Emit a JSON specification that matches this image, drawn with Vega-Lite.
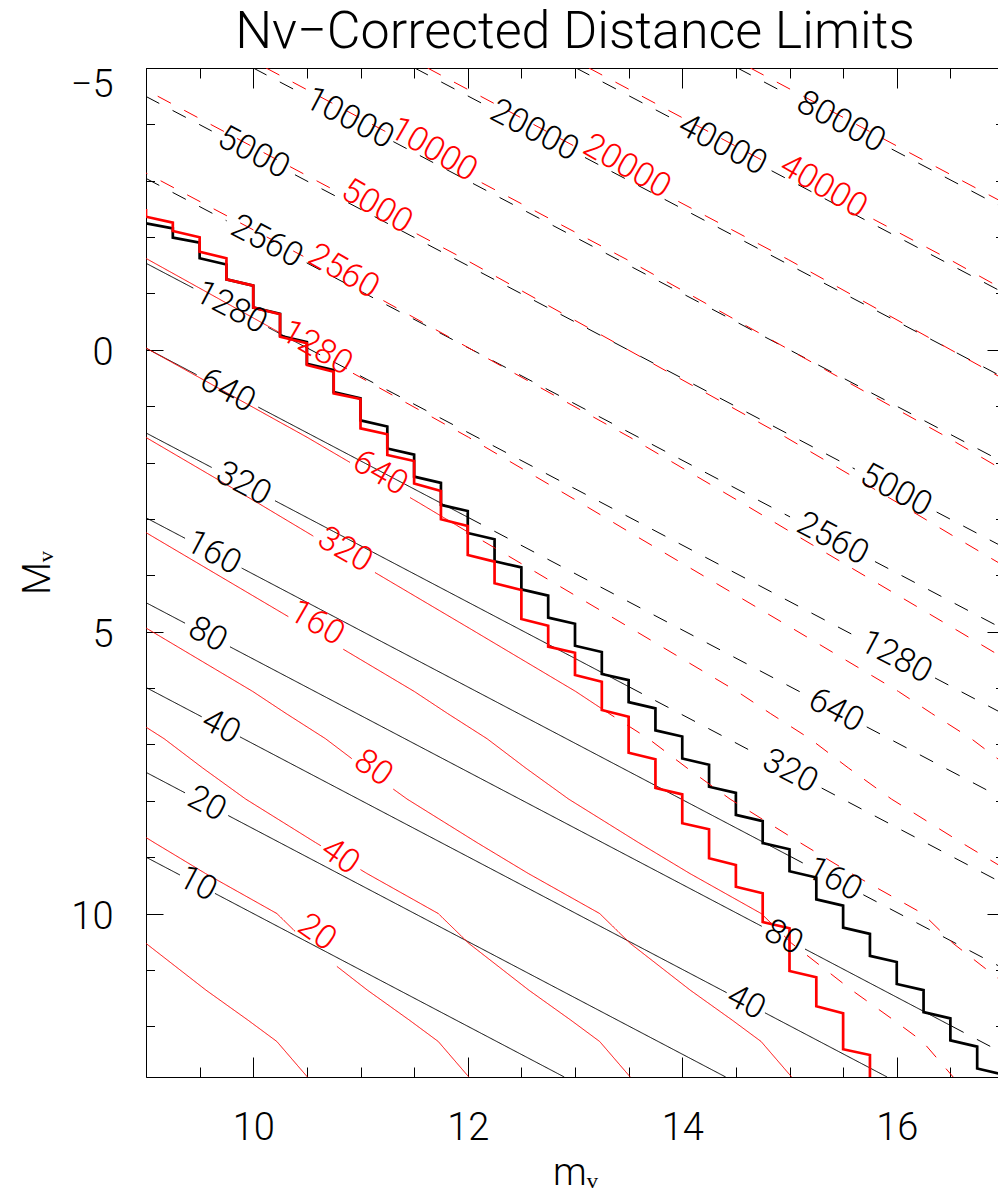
{
"$schema":"https://vega.github.io/schema/vega-lite/v6.json",
"width":858,"height":1009,
"autosize":{"type":"none"},
"padding":{"left":146,"top":68,"right":-6,"bottom":119},
"background":"white",
"title":{"text":"Nν−Corrected Distance Limits","fontSize":52,"font":"Roboto","fontWeight":300,"color":"black","anchor":"middle","frame":"group","offset":7},
"config":{"view":{"stroke":null},"font":"Roboto","axis":{"grid":false,"domainColor":"black","tickColor":"black","labelColor":"black","titleColor":"black","labelFont":"Roboto","titleFont":"Roboto","labelFontWeight":300,"titleFontWeight":300,"labelFlush":false,"labelOverlap":false,"domainWidth":1,"tickWidth":1}},
"datasets":{
"lines":[
{"set":"k","kind":"c","sty":"s","id":"b10a","o":0,"m":9,"M":9},{"set":"k","kind":"c","sty":"s","id":"b10a","o":1,"m":9.317,"M":9.317},
{"set":"k","kind":"c","sty":"s","id":"b10b","o":0,"m":9.643,"M":9.643},{"set":"k","kind":"c","sty":"s","id":"b10b","o":1,"m":12.9,"M":12.9},
{"set":"k","kind":"c","sty":"s","id":"b20a","o":0,"m":9,"M":7.495},{"set":"k","kind":"c","sty":"s","id":"b20a","o":1,"m":9.364,"M":7.859},
{"set":"k","kind":"c","sty":"s","id":"b20b","o":0,"m":9.767,"M":8.262},{"set":"k","kind":"c","sty":"s","id":"b20b","o":1,"m":14.405,"M":12.9},
{"set":"k","kind":"c","sty":"s","id":"b40a","o":0,"m":9,"M":5.99},{"set":"k","kind":"c","sty":"s","id":"b40a","o":1,"m":9.519,"M":6.509},
{"set":"k","kind":"c","sty":"s","id":"b40b","o":0,"m":9.876,"M":6.866},{"set":"k","kind":"c","sty":"s","id":"b40b","o":1,"m":14.414,"M":11.404},
{"set":"k","kind":"c","sty":"s","id":"b40c","o":0,"m":14.771,"M":11.761},{"set":"k","kind":"c","sty":"s","id":"b40c","o":1,"m":15.91,"M":12.9},
{"set":"k","kind":"c","sty":"s","id":"b80a","o":0,"m":9,"M":4.485},{"set":"k","kind":"c","sty":"s","id":"b80a","o":1,"m":9.364,"M":4.849},
{"set":"k","kind":"c","sty":"s","id":"b80b","o":0,"m":9.783,"M":5.268},{"set":"k","kind":"c","sty":"s","id":"b80b","o":1,"m":14.741,"M":10.226},
{"set":"k","kind":"c","sty":"s","id":"b80c","o":0,"m":15.145,"M":10.63},{"set":"k","kind":"c","sty":"s","id":"b80c","o":1,"m":16.5,"M":11.985},
{"set":"k","kind":"c","sty":"d","id":"b80d","o":0,"m":16.5,"M":11.985},{"set":"k","kind":"c","sty":"d","id":"b80d","o":1,"m":17,"M":12.485},
{"set":"k","kind":"c","sty":"s","id":"b160a","o":0,"m":9,"M":2.979},{"set":"k","kind":"c","sty":"s","id":"b160a","o":1,"m":9.364,"M":3.343},
{"set":"k","kind":"c","sty":"s","id":"b160b","o":0,"m":9.892,"M":3.871},{"set":"k","kind":"c","sty":"s","id":"b160b","o":1,"m":15.0,"M":8.979},
{"set":"k","kind":"c","sty":"d","id":"b160c","o":0,"m":15.0,"M":8.979},{"set":"k","kind":"c","sty":"d","id":"b160c","o":1,"m":15.145,"M":9.124},
{"set":"k","kind":"c","sty":"d","id":"b160d","o":0,"m":15.688,"M":9.667},{"set":"k","kind":"c","sty":"d","id":"b160d","o":1,"m":17,"M":10.979},
{"set":"k","kind":"c","sty":"s","id":"b320a","o":0,"m":9,"M":1.474},{"set":"k","kind":"c","sty":"s","id":"b320a","o":1,"m":9.613,"M":2.087},
{"set":"k","kind":"c","sty":"s","id":"b320b","o":0,"m":10.203,"M":2.677},{"set":"k","kind":"c","sty":"s","id":"b320b","o":1,"m":13.5,"M":5.974},
{"set":"k","kind":"c","sty":"d","id":"b320c","o":0,"m":13.5,"M":5.974},{"set":"k","kind":"c","sty":"d","id":"b320c","o":1,"m":14.709,"M":7.183},
{"set":"k","kind":"c","sty":"d","id":"b320d","o":0,"m":15.3,"M":7.774},{"set":"k","kind":"c","sty":"d","id":"b320d","o":1,"m":17,"M":9.474},
{"set":"k","kind":"c","sty":"s","id":"b640a","o":0,"m":9,"M":-0.031},{"set":"k","kind":"c","sty":"s","id":"b640a","o":1,"m":9.473,"M":0.442},
{"set":"k","kind":"c","sty":"s","id":"b640b","o":0,"m":10.047,"M":1.016},{"set":"k","kind":"c","sty":"s","id":"b640b","o":1,"m":12.0,"M":2.969},
{"set":"k","kind":"c","sty":"d","id":"b640c","o":0,"m":12.0,"M":2.969},{"set":"k","kind":"c","sty":"d","id":"b640c","o":1,"m":15.145,"M":6.114},
{"set":"k","kind":"c","sty":"d","id":"b640d","o":0,"m":15.72,"M":6.689},{"set":"k","kind":"c","sty":"d","id":"b640d","o":1,"m":17,"M":7.969},
{"set":"k","kind":"c","sty":"s","id":"b1280a","o":0,"m":9,"M":-1.536},{"set":"k","kind":"c","sty":"s","id":"b1280a","o":1,"m":9.441,"M":-1.095},
{"set":"k","kind":"c","sty":"s","id":"b1280b","o":0,"m":10.14,"M":-0.396},{"set":"k","kind":"c","sty":"s","id":"b1280b","o":1,"m":10.5,"M":-0.036},
{"set":"k","kind":"c","sty":"d","id":"b1280c","o":0,"m":10.5,"M":-0.036},{"set":"k","kind":"c","sty":"d","id":"b1280c","o":1,"m":15.627,"M":5.091},
{"set":"k","kind":"c","sty":"d","id":"b1280d","o":0,"m":16.357,"M":5.821},{"set":"k","kind":"c","sty":"d","id":"b1280d","o":1,"m":17,"M":6.464},
{"set":"k","kind":"c","sty":"d","id":"b2560a","o":0,"m":9,"M":-3.041},{"set":"k","kind":"c","sty":"d","id":"b2560a","o":1,"m":9.752,"M":-2.289},
{"set":"k","kind":"c","sty":"d","id":"b2560b","o":0,"m":10.498,"M":-1.543},{"set":"k","kind":"c","sty":"d","id":"b2560b","o":1,"m":15.005,"M":2.964},
{"set":"k","kind":"c","sty":"d","id":"b2560c","o":0,"m":15.797,"M":3.756},{"set":"k","kind":"c","sty":"d","id":"b2560c","o":1,"m":17,"M":4.959},
{"set":"k","kind":"c","sty":"d","id":"b5000a","o":0,"m":9,"M":-4.495},{"set":"k","kind":"c","sty":"d","id":"b5000a","o":1,"m":9.613,"M":-3.882},
{"set":"k","kind":"c","sty":"d","id":"b5000b","o":0,"m":10.389,"M":-3.106},{"set":"k","kind":"c","sty":"d","id":"b5000b","o":1,"m":15.61,"M":2.115},
{"set":"k","kind":"c","sty":"d","id":"b5000c","o":0,"m":16.372,"M":2.877},{"set":"k","kind":"c","sty":"d","id":"b5000c","o":1,"m":17,"M":3.505},
{"set":"k","kind":"c","sty":"d","id":"b10000a","o":0,"m":10,"M":-5},{"set":"k","kind":"c","sty":"d","id":"b10000a","o":1,"m":10.483,"M":-4.517},
{"set":"k","kind":"c","sty":"d","id":"b10000b","o":0,"m":11.306,"M":-3.694},{"set":"k","kind":"c","sty":"d","id":"b10000b","o":1,"m":17,"M":2.0},
{"set":"k","kind":"c","sty":"d","id":"b20000a","o":0,"m":11.505,"M":-5},{"set":"k","kind":"c","sty":"d","id":"b20000a","o":1,"m":12.145,"M":-4.36},
{"set":"k","kind":"c","sty":"d","id":"b20000b","o":0,"m":13.093,"M":-3.412},{"set":"k","kind":"c","sty":"d","id":"b20000b","o":1,"m":17,"M":0.495},
{"set":"k","kind":"c","sty":"d","id":"b40000a","o":0,"m":13.01,"M":-5},{"set":"k","kind":"c","sty":"d","id":"b40000a","o":1,"m":13.917,"M":-4.093},
{"set":"k","kind":"c","sty":"d","id":"b40000b","o":0,"m":14.833,"M":-3.177},{"set":"k","kind":"c","sty":"d","id":"b40000b","o":1,"m":17,"M":-1.01},
{"set":"k","kind":"c","sty":"d","id":"b80000a","o":0,"m":14.515,"M":-5},{"set":"k","kind":"c","sty":"d","id":"b80000a","o":1,"m":15.005,"M":-4.51},
{"set":"k","kind":"c","sty":"d","id":"b80000b","o":0,"m":15.953,"M":-3.562},{"set":"k","kind":"c","sty":"d","id":"b80000b","o":1,"m":17,"M":-2.515},

{"set":"r","kind":"c","sty":"s","id":"r10a","o":0,"m":8.715,"M":10.0},{"set":"r","kind":"c","sty":"s","id":"r10a","o":1,"m":9.0,"M":10.53},{"set":"r","kind":"c","sty":"s","id":"r10a","o":2,"m":9.56,"M":11.36},{"set":"r","kind":"c","sty":"s","id":"r10a","o":3,"m":9.95,"M":11.89},{"set":"r","kind":"c","sty":"s","id":"r10a","o":4,"m":10.22,"M":12.27},{"set":"r","kind":"c","sty":"s","id":"r10a","o":5,"m":10.505,"M":12.9},

{"set":"r","kind":"c","sty":"s","id":"r20a","o":0,"m":8.425,"M":7.97},{"set":"r","kind":"c","sty":"s","id":"r20a","o":1,"m":9.075,"M":8.74},{"set":"r","kind":"c","sty":"s","id":"r20a","o":2,"m":9.555,"M":9.29},{"set":"r","kind":"c","sty":"s","id":"r20a","o":3,"m":10.22,"M":10.0},{"set":"r","kind":"c","sty":"s","id":"r20a","o":4,"m":10.39,"M":10.316},
{"set":"r","kind":"c","sty":"s","id":"r20b","o":0,"m":10.78,"M":10.938},{"set":"r","kind":"c","sty":"s","id":"r20b","o":1,"m":11.065,"M":11.36},{"set":"r","kind":"c","sty":"s","id":"r20b","o":2,"m":11.455,"M":11.89},{"set":"r","kind":"c","sty":"s","id":"r20b","o":3,"m":11.725,"M":12.27},{"set":"r","kind":"c","sty":"s","id":"r20b","o":4,"m":12.01,"M":12.9},

{"set":"r","kind":"c","sty":"s","id":"r40a","o":0,"m":8.8,"M":6.45},{"set":"r","kind":"c","sty":"s","id":"r40a","o":1,"m":9.17,"M":6.9},{"set":"r","kind":"c","sty":"s","id":"r40a","o":2,"m":9.53,"M":7.42},{"set":"r","kind":"c","sty":"s","id":"r40a","o":3,"m":9.93,"M":7.97},{"set":"r","kind":"c","sty":"s","id":"r40a","o":4,"m":10.58,"M":8.74},{"set":"r","kind":"c","sty":"s","id":"r40a","o":5,"m":10.63,"M":8.797},
{"set":"r","kind":"c","sty":"s","id":"r40b","o":0,"m":11.0,"M":9.221},{"set":"r","kind":"c","sty":"s","id":"r40b","o":1,"m":11.06,"M":9.29},{"set":"r","kind":"c","sty":"s","id":"r40b","o":2,"m":11.725,"M":10.0},{"set":"r","kind":"c","sty":"s","id":"r40b","o":3,"m":12.01,"M":10.53},{"set":"r","kind":"c","sty":"s","id":"r40b","o":4,"m":12.57,"M":11.36},{"set":"r","kind":"c","sty":"s","id":"r40b","o":5,"m":12.96,"M":11.89},{"set":"r","kind":"c","sty":"s","id":"r40b","o":6,"m":13.23,"M":12.27},{"set":"r","kind":"c","sty":"s","id":"r40b","o":7,"m":13.515,"M":12.9},

{"set":"r","kind":"c","sty":"s","id":"r80a","o":0,"m":7.545,"M":3.3},{"set":"r","kind":"c","sty":"s","id":"r80a","o":1,"m":9.005,"M":4.94},{"set":"r","kind":"c","sty":"s","id":"r80a","o":2,"m":9.995,"M":6.06},{"set":"r","kind":"c","sty":"s","id":"r80a","o":3,"m":10.305,"M":6.45},{"set":"r","kind":"c","sty":"s","id":"r80a","o":4,"m":10.675,"M":6.9},{"set":"r","kind":"c","sty":"s","id":"r80a","o":5,"m":10.918,"M":7.251},
{"set":"r","kind":"c","sty":"s","id":"r80b","o":0,"m":11.306,"M":7.793},{"set":"r","kind":"c","sty":"s","id":"r80b","o":1,"m":11.435,"M":7.97},{"set":"r","kind":"c","sty":"s","id":"r80b","o":2,"m":12.085,"M":8.74},{"set":"r","kind":"c","sty":"s","id":"r80b","o":3,"m":12.565,"M":9.29},{"set":"r","kind":"c","sty":"s","id":"r80b","o":4,"m":13.23,"M":10.0},{"set":"r","kind":"c","sty":"s","id":"r80b","o":5,"m":13.515,"M":10.53},{"set":"r","kind":"c","sty":"s","id":"r80b","o":6,"m":14.075,"M":11.36},{"set":"r","kind":"c","sty":"s","id":"r80b","o":7,"m":14.465,"M":11.89},{"set":"r","kind":"c","sty":"s","id":"r80b","o":8,"m":14.735,"M":12.27},{"set":"r","kind":"c","sty":"s","id":"r80b","o":9,"m":15.02,"M":12.9},

{"set":"r","kind":"c","sty":"s","id":"r160a","o":0,"m":8.541,"M":2.72},{"set":"r","kind":"c","sty":"s","id":"r160a","o":1,"m":9.051,"M":3.3},{"set":"r","kind":"c","sty":"s","id":"r160a","o":2,"m":10.327,"M":4.733},
{"set":"r","kind":"c","sty":"s","id":"r160b","o":0,"m":10.84,"M":5.312},{"set":"r","kind":"c","sty":"s","id":"r160b","o":1,"m":11.501,"M":6.06},{"set":"r","kind":"c","sty":"s","id":"r160b","o":2,"m":11.811,"M":6.45},{"set":"r","kind":"c","sty":"s","id":"r160b","o":3,"m":12.181,"M":6.9},{"set":"r","kind":"c","sty":"s","id":"r160b","o":4,"m":12.541,"M":7.42},{"set":"r","kind":"c","sty":"s","id":"r160b","o":5,"m":12.941,"M":7.97},{"set":"r","kind":"c","sty":"s","id":"r160b","o":6,"m":13.591,"M":8.74},{"set":"r","kind":"c","sty":"s","id":"r160b","o":7,"m":14.071,"M":9.29},{"set":"r","kind":"c","sty":"s","id":"r160b","o":8,"m":14.736,"M":10.0},{"set":"r","kind":"c","sty":"s","id":"r160b","o":9,"m":14.75,"M":10.026},
{"set":"r","kind":"c","sty":"d","id":"r160c","o":0,"m":14.75,"M":10.026},{"set":"r","kind":"c","sty":"d","id":"r160c","o":1,"m":15.021,"M":10.53},{"set":"r","kind":"c","sty":"d","id":"r160c","o":2,"m":15.581,"M":11.36},{"set":"r","kind":"c","sty":"d","id":"r160c","o":3,"m":15.971,"M":11.89},{"set":"r","kind":"c","sty":"d","id":"r160c","o":4,"m":16.241,"M":12.27},{"set":"r","kind":"c","sty":"d","id":"r160c","o":5,"m":16.526,"M":12.9},

{"set":"r","kind":"c","sty":"s","id":"r320a","o":0,"m":7.526,"M":0.0},{"set":"r","kind":"c","sty":"s","id":"r320a","o":1,"m":8.996,"M":1.55},{"set":"r","kind":"c","sty":"s","id":"r320a","o":2,"m":10.046,"M":2.72},{"set":"r","kind":"c","sty":"s","id":"r320a","o":3,"m":10.556,"M":3.3},{"set":"r","kind":"c","sty":"s","id":"r320a","o":4,"m":10.56,"M":3.305},
{"set":"r","kind":"c","sty":"s","id":"r320b","o":0,"m":11.135,"M":3.95},{"set":"r","kind":"c","sty":"s","id":"r320b","o":1,"m":12.016,"M":4.94},{"set":"r","kind":"c","sty":"s","id":"r320b","o":2,"m":13.006,"M":6.06},{"set":"r","kind":"c","sty":"s","id":"r320b","o":3,"m":13.25,"M":6.367},
{"set":"r","kind":"c","sty":"d","id":"r320c","o":0,"m":13.25,"M":6.367},{"set":"r","kind":"c","sty":"d","id":"r320c","o":1,"m":13.316,"M":6.45},{"set":"r","kind":"c","sty":"d","id":"r320c","o":2,"m":13.686,"M":6.9},{"set":"r","kind":"c","sty":"d","id":"r320c","o":3,"m":14.046,"M":7.42},{"set":"r","kind":"c","sty":"d","id":"r320c","o":4,"m":14.446,"M":7.97},{"set":"r","kind":"c","sty":"d","id":"r320c","o":5,"m":15.096,"M":8.74},{"set":"r","kind":"c","sty":"d","id":"r320c","o":6,"m":15.576,"M":9.29},{"set":"r","kind":"c","sty":"d","id":"r320c","o":7,"m":16.241,"M":10.0},{"set":"r","kind":"c","sty":"d","id":"r320c","o":8,"m":16.526,"M":10.53},{"set":"r","kind":"c","sty":"d","id":"r320c","o":9,"m":17.086,"M":11.36},

{"set":"r","kind":"c","sty":"s","id":"r640a","o":0,"m":7.516,"M":-1.6},{"set":"r","kind":"c","sty":"s","id":"r640a","o":1,"m":9.031,"M":0.0},{"set":"r","kind":"c","sty":"s","id":"r640a","o":2,"m":10.501,"M":1.55},{"set":"r","kind":"c","sty":"s","id":"r640a","o":3,"m":10.902,"M":1.997},
{"set":"r","kind":"c","sty":"s","id":"r640b","o":0,"m":11.462,"M":2.621},{"set":"r","kind":"c","sty":"s","id":"r640b","o":1,"m":11.551,"M":2.72},{"set":"r","kind":"c","sty":"s","id":"r640b","o":2,"m":11.9,"M":3.117},
{"set":"r","kind":"c","sty":"d","id":"r640c","o":0,"m":11.9,"M":3.117},{"set":"r","kind":"c","sty":"d","id":"r640c","o":1,"m":12.061,"M":3.3},{"set":"r","kind":"c","sty":"d","id":"r640c","o":2,"m":13.521,"M":4.94},{"set":"r","kind":"c","sty":"d","id":"r640c","o":3,"m":14.511,"M":6.06},{"set":"r","kind":"c","sty":"d","id":"r640c","o":4,"m":14.821,"M":6.45},{"set":"r","kind":"c","sty":"d","id":"r640c","o":5,"m":15.191,"M":6.9},{"set":"r","kind":"c","sty":"d","id":"r640c","o":6,"m":15.551,"M":7.42},{"set":"r","kind":"c","sty":"d","id":"r640c","o":7,"m":15.951,"M":7.97},{"set":"r","kind":"c","sty":"d","id":"r640c","o":8,"m":16.601,"M":8.74},{"set":"r","kind":"c","sty":"d","id":"r640c","o":9,"m":17.081,"M":9.29},

{"set":"r","kind":"c","sty":"s","id":"r1280a","o":0,"m":7.631,"M":-3.0},{"set":"r","kind":"c","sty":"s","id":"r1280a","o":1,"m":9.021,"M":-1.6},{"set":"r","kind":"c","sty":"s","id":"r1280a","o":2,"m":10.25,"M":-0.302},
{"set":"r","kind":"c","sty":"d","id":"r1280b","o":0,"m":10.93,"M":0.415},{"set":"r","kind":"c","sty":"d","id":"r1280b","o":1,"m":12.006,"M":1.55},{"set":"r","kind":"c","sty":"d","id":"r1280b","o":2,"m":13.056,"M":2.72},{"set":"r","kind":"c","sty":"d","id":"r1280b","o":3,"m":13.566,"M":3.3},{"set":"r","kind":"c","sty":"d","id":"r1280b","o":4,"m":15.026,"M":4.94},{"set":"r","kind":"c","sty":"d","id":"r1280b","o":5,"m":16.016,"M":6.06},{"set":"r","kind":"c","sty":"d","id":"r1280b","o":6,"m":16.326,"M":6.45},{"set":"r","kind":"c","sty":"d","id":"r1280b","o":7,"m":16.696,"M":6.9},{"set":"r","kind":"c","sty":"d","id":"r1280b","o":8,"m":17.056,"M":7.42},

{"set":"r","kind":"c","sty":"d","id":"r2560a","o":0,"m":7.161,"M":-5.0},{"set":"r","kind":"c","sty":"d","id":"r2560a","o":1,"m":9.136,"M":-3.0},{"set":"r","kind":"c","sty":"d","id":"r2560a","o":2,"m":10.467,"M":-1.659},
{"set":"r","kind":"c","sty":"d","id":"r2560b","o":0,"m":11.213,"M":-0.874},{"set":"r","kind":"c","sty":"d","id":"r2560b","o":1,"m":12.041,"M":0.0},{"set":"r","kind":"c","sty":"d","id":"r2560b","o":2,"m":13.511,"M":1.55},{"set":"r","kind":"c","sty":"d","id":"r2560b","o":3,"m":14.561,"M":2.72},{"set":"r","kind":"c","sty":"d","id":"r2560b","o":4,"m":15.071,"M":3.3},{"set":"r","kind":"c","sty":"d","id":"r2560b","o":5,"m":16.531,"M":4.94},{"set":"r","kind":"c","sty":"d","id":"r2560b","o":6,"m":17.521,"M":6.06},

{"set":"r","kind":"c","sty":"d","id":"r5000a","o":0,"m":8.615,"M":-5.0},{"set":"r","kind":"c","sty":"d","id":"r5000a","o":1,"m":10.59,"M":-3.0},{"set":"r","kind":"c","sty":"d","id":"r5000a","o":2,"m":10.778,"M":-2.81},
{"set":"r","kind":"c","sty":"d","id":"r5000b","o":0,"m":11.524,"M":-2.059},{"set":"r","kind":"c","sty":"d","id":"r5000b","o":1,"m":11.98,"M":-1.6},{"set":"r","kind":"c","sty":"d","id":"r5000b","o":2,"m":13.495,"M":0.0},{"set":"r","kind":"c","sty":"d","id":"r5000b","o":3,"m":14.965,"M":1.55},{"set":"r","kind":"c","sty":"d","id":"r5000b","o":4,"m":16.015,"M":2.72},{"set":"r","kind":"c","sty":"d","id":"r5000b","o":5,"m":16.525,"M":3.3},{"set":"r","kind":"c","sty":"d","id":"r5000b","o":6,"m":17.985,"M":4.94},

{"set":"r","kind":"c","sty":"d","id":"r10000a","o":0,"m":10.12,"M":-5.0},{"set":"r","kind":"c","sty":"d","id":"r10000a","o":1,"m":11.244,"M":-3.862},
{"set":"r","kind":"c","sty":"d","id":"r10000b","o":0,"m":12.13,"M":-2.965},{"set":"r","kind":"c","sty":"d","id":"r10000b","o":1,"m":13.485,"M":-1.6},{"set":"r","kind":"c","sty":"d","id":"r10000b","o":2,"m":15.0,"M":0.0},{"set":"r","kind":"c","sty":"d","id":"r10000b","o":3,"m":16.47,"M":1.55},{"set":"r","kind":"c","sty":"d","id":"r10000b","o":4,"m":17.52,"M":2.72},

{"set":"r","kind":"c","sty":"d","id":"r20000a","o":0,"m":11.625,"M":-5.0},{"set":"r","kind":"c","sty":"d","id":"r20000a","o":1,"m":13.047,"M":-3.56},
{"set":"r","kind":"c","sty":"d","id":"r20000b","o":0,"m":13.963,"M":-2.634},{"set":"r","kind":"c","sty":"d","id":"r20000b","o":1,"m":14.99,"M":-1.6},{"set":"r","kind":"c","sty":"d","id":"r20000b","o":2,"m":16.505,"M":0.0},{"set":"r","kind":"c","sty":"d","id":"r20000b","o":3,"m":17.975,"M":1.55},

{"set":"r","kind":"c","sty":"d","id":"r40000a","o":0,"m":13.13,"M":-5.0},{"set":"r","kind":"c","sty":"d","id":"r40000a","o":1,"m":14.849,"M":-3.259},
{"set":"r","kind":"c","sty":"d","id":"r40000b","o":0,"m":15.782,"M":-2.318},{"set":"r","kind":"c","sty":"d","id":"r40000b","o":1,"m":16.495,"M":-1.6},{"set":"r","kind":"c","sty":"d","id":"r40000b","o":2,"m":18.01,"M":0.0},

{"set":"r","kind":"c","sty":"d","id":"r80000a","o":0,"m":14.635,"M":-5.0},{"set":"r","kind":"c","sty":"d","id":"r80000a","o":1,"m":16.61,"M":-3.0},{"set":"r","kind":"c","sty":"d","id":"r80000a","o":2,"m":18.0,"M":-1.6},

{"set":"k","kind":"l","sty":"s","id":"bl","o":0,"m":9,"M":-2.245},
{"set":"k","kind":"l","sty":"s","id":"bl","o":1,"m":9.25,"M":-2.156},{"set":"k","kind":"l","sty":"s","id":"bl","o":2,"m":9.25,"M":-1.99},
{"set":"k","kind":"l","sty":"s","id":"bl","o":3,"m":9.5,"M":-1.901},{"set":"k","kind":"l","sty":"s","id":"bl","o":4,"m":9.5,"M":-1.624},
{"set":"k","kind":"l","sty":"s","id":"bl","o":5,"m":9.75,"M":-1.514},{"set":"k","kind":"l","sty":"s","id":"bl","o":6,"m":9.75,"M":-1.25},
{"set":"k","kind":"l","sty":"s","id":"bl","o":7,"m":10,"M":-1.14},{"set":"k","kind":"l","sty":"s","id":"bl","o":8,"m":10,"M":-0.75},
{"set":"k","kind":"l","sty":"s","id":"bl","o":9,"m":10.25,"M":-0.64},{"set":"k","kind":"l","sty":"s","id":"bl","o":10,"m":10.25,"M":-0.25},
{"set":"k","kind":"l","sty":"s","id":"bl","o":11,"m":10.5,"M":-0.14},{"set":"k","kind":"l","sty":"s","id":"bl","o":12,"m":10.5,"M":0.25},
{"set":"k","kind":"l","sty":"s","id":"bl","o":13,"m":10.75,"M":0.36},{"set":"k","kind":"l","sty":"s","id":"bl","o":14,"m":10.75,"M":0.75},
{"set":"k","kind":"l","sty":"s","id":"bl","o":15,"m":11,"M":0.86},{"set":"k","kind":"l","sty":"s","id":"bl","o":16,"m":11,"M":1.25},
{"set":"k","kind":"l","sty":"s","id":"bl","o":17,"m":11.25,"M":1.36},{"set":"k","kind":"l","sty":"s","id":"bl","o":18,"m":11.25,"M":1.75},
{"set":"k","kind":"l","sty":"s","id":"bl","o":19,"m":11.5,"M":1.86},{"set":"k","kind":"l","sty":"s","id":"bl","o":20,"m":11.5,"M":2.25},
{"set":"k","kind":"l","sty":"s","id":"bl","o":21,"m":11.75,"M":2.36},{"set":"k","kind":"l","sty":"s","id":"bl","o":22,"m":11.75,"M":2.75},
{"set":"k","kind":"l","sty":"s","id":"bl","o":23,"m":12,"M":2.86},{"set":"k","kind":"l","sty":"s","id":"bl","o":24,"m":12,"M":3.25},
{"set":"k","kind":"l","sty":"s","id":"bl","o":25,"m":12.25,"M":3.36},{"set":"k","kind":"l","sty":"s","id":"bl","o":26,"m":12.25,"M":3.75},
{"set":"k","kind":"l","sty":"s","id":"bl","o":27,"m":12.5,"M":3.86},{"set":"k","kind":"l","sty":"s","id":"bl","o":28,"m":12.5,"M":4.25},
{"set":"k","kind":"l","sty":"s","id":"bl","o":29,"m":12.75,"M":4.36},{"set":"k","kind":"l","sty":"s","id":"bl","o":30,"m":12.75,"M":4.75},
{"set":"k","kind":"l","sty":"s","id":"bl","o":31,"m":13,"M":4.86},{"set":"k","kind":"l","sty":"s","id":"bl","o":32,"m":13,"M":5.25},
{"set":"k","kind":"l","sty":"s","id":"bl","o":33,"m":13.25,"M":5.36},{"set":"k","kind":"l","sty":"s","id":"bl","o":34,"m":13.25,"M":5.75},
{"set":"k","kind":"l","sty":"s","id":"bl","o":35,"m":13.5,"M":5.86},{"set":"k","kind":"l","sty":"s","id":"bl","o":36,"m":13.5,"M":6.25},
{"set":"k","kind":"l","sty":"s","id":"bl","o":37,"m":13.75,"M":6.36},{"set":"k","kind":"l","sty":"s","id":"bl","o":38,"m":13.75,"M":6.75},
{"set":"k","kind":"l","sty":"s","id":"bl","o":39,"m":14,"M":6.86},{"set":"k","kind":"l","sty":"s","id":"bl","o":40,"m":14,"M":7.25},
{"set":"k","kind":"l","sty":"s","id":"bl","o":41,"m":14.25,"M":7.36},{"set":"k","kind":"l","sty":"s","id":"bl","o":42,"m":14.25,"M":7.75},
{"set":"k","kind":"l","sty":"s","id":"bl","o":43,"m":14.5,"M":7.86},{"set":"k","kind":"l","sty":"s","id":"bl","o":44,"m":14.5,"M":8.25},
{"set":"k","kind":"l","sty":"s","id":"bl","o":45,"m":14.75,"M":8.36},{"set":"k","kind":"l","sty":"s","id":"bl","o":46,"m":14.75,"M":8.75},
{"set":"k","kind":"l","sty":"s","id":"bl","o":47,"m":15,"M":8.86},{"set":"k","kind":"l","sty":"s","id":"bl","o":48,"m":15,"M":9.25},
{"set":"k","kind":"l","sty":"s","id":"bl","o":49,"m":15.25,"M":9.36},{"set":"k","kind":"l","sty":"s","id":"bl","o":50,"m":15.25,"M":9.75},
{"set":"k","kind":"l","sty":"s","id":"bl","o":51,"m":15.5,"M":9.86},{"set":"k","kind":"l","sty":"s","id":"bl","o":52,"m":15.5,"M":10.25},
{"set":"k","kind":"l","sty":"s","id":"bl","o":53,"m":15.75,"M":10.36},{"set":"k","kind":"l","sty":"s","id":"bl","o":54,"m":15.75,"M":10.75},
{"set":"k","kind":"l","sty":"s","id":"bl","o":55,"m":16,"M":10.86},{"set":"k","kind":"l","sty":"s","id":"bl","o":56,"m":16,"M":11.25},
{"set":"k","kind":"l","sty":"s","id":"bl","o":57,"m":16.25,"M":11.36},{"set":"k","kind":"l","sty":"s","id":"bl","o":58,"m":16.25,"M":11.75},
{"set":"k","kind":"l","sty":"s","id":"bl","o":59,"m":16.5,"M":11.86},{"set":"k","kind":"l","sty":"s","id":"bl","o":60,"m":16.5,"M":12.25},
{"set":"k","kind":"l","sty":"s","id":"bl","o":61,"m":16.75,"M":12.36},{"set":"k","kind":"l","sty":"s","id":"bl","o":62,"m":16.75,"M":12.75},
{"set":"k","kind":"l","sty":"s","id":"bl","o":63,"m":17,"M":12.86},

{"set":"r","kind":"l","sty":"s","id":"rl","o":0,"m":9,"M":-2.499},{"set":"r","kind":"l","sty":"s","id":"rl","o":1,"m":9,"M":-2.362},
{"set":"r","kind":"l","sty":"s","id":"rl","o":2,"m":9.25,"M":-2.256},{"set":"r","kind":"l","sty":"s","id":"rl","o":3,"m":9.25,"M":-2.108},
{"set":"r","kind":"l","sty":"s","id":"rl","o":4,"m":9.5,"M":-1.997},{"set":"r","kind":"l","sty":"s","id":"rl","o":5,"m":9.5,"M":-1.741},
{"set":"r","kind":"l","sty":"s","id":"rl","o":6,"m":9.75,"M":-1.624},{"set":"r","kind":"l","sty":"s","id":"rl","o":7,"m":9.75,"M":-1.25},
{"set":"r","kind":"l","sty":"s","id":"rl","o":8,"m":10,"M":-1.14},{"set":"r","kind":"l","sty":"s","id":"rl","o":9,"m":10,"M":-0.75},
{"set":"r","kind":"l","sty":"s","id":"rl","o":10,"m":10.25,"M":-0.631},{"set":"r","kind":"l","sty":"s","id":"rl","o":11,"m":10.25,"M":-0.233},
{"set":"r","kind":"l","sty":"s","id":"rl","o":12,"m":10.5,"M":-0.116},{"set":"r","kind":"l","sty":"s","id":"rl","o":13,"m":10.5,"M":0.269},
{"set":"r","kind":"l","sty":"s","id":"rl","o":14,"m":10.75,"M":0.388},{"set":"r","kind":"l","sty":"s","id":"rl","o":15,"m":10.75,"M":0.771},
{"set":"r","kind":"l","sty":"s","id":"rl","o":16,"m":11,"M":0.872},{"set":"r","kind":"l","sty":"s","id":"rl","o":17,"m":11,"M":1.392},
{"set":"r","kind":"l","sty":"s","id":"rl","o":18,"m":11.25,"M":1.498},{"set":"r","kind":"l","sty":"s","id":"rl","o":19,"m":11.25,"M":1.865},
{"set":"r","kind":"l","sty":"s","id":"rl","o":20,"m":11.5,"M":1.972},{"set":"r","kind":"l","sty":"s","id":"rl","o":21,"m":11.5,"M":2.371},
{"set":"r","kind":"l","sty":"s","id":"rl","o":22,"m":11.75,"M":2.504},{"set":"r","kind":"l","sty":"s","id":"rl","o":23,"m":11.75,"M":3.006},
{"set":"r","kind":"l","sty":"s","id":"rl","o":24,"m":12,"M":3.125},{"set":"r","kind":"l","sty":"s","id":"rl","o":25,"m":12,"M":3.639},
{"set":"r","kind":"l","sty":"s","id":"rl","o":26,"m":12.25,"M":3.758},{"set":"r","kind":"l","sty":"s","id":"rl","o":27,"m":12.25,"M":4.141},
{"set":"r","kind":"l","sty":"s","id":"rl","o":28,"m":12.5,"M":4.26},{"set":"r","kind":"l","sty":"s","id":"rl","o":29,"m":12.5,"M":4.774},
{"set":"r","kind":"l","sty":"s","id":"rl","o":30,"m":12.75,"M":4.894},{"set":"r","kind":"l","sty":"s","id":"rl","o":31,"m":12.75,"M":5.266},
{"set":"r","kind":"l","sty":"s","id":"rl","o":32,"m":13,"M":5.373},{"set":"r","kind":"l","sty":"s","id":"rl","o":33,"m":13,"M":5.768},
{"set":"r","kind":"l","sty":"s","id":"rl","o":34,"m":13.25,"M":5.887},{"set":"r","kind":"l","sty":"s","id":"rl","o":35,"m":13.25,"M":6.389},
{"set":"r","kind":"l","sty":"s","id":"rl","o":36,"m":13.5,"M":6.508},{"set":"r","kind":"l","sty":"s","id":"rl","o":37,"m":13.5,"M":7.147},
{"set":"r","kind":"l","sty":"s","id":"rl","o":38,"m":13.75,"M":7.264},{"set":"r","kind":"l","sty":"s","id":"rl","o":39,"m":13.75,"M":7.773},
{"set":"r","kind":"l","sty":"s","id":"rl","o":40,"m":14,"M":7.885},{"set":"r","kind":"l","sty":"s","id":"rl","o":41,"m":14,"M":8.399},
{"set":"r","kind":"l","sty":"s","id":"rl","o":42,"m":14.25,"M":8.505},{"set":"r","kind":"l","sty":"s","id":"rl","o":43,"m":14.25,"M":9.02},
{"set":"r","kind":"l","sty":"s","id":"rl","o":44,"m":14.5,"M":9.139},{"set":"r","kind":"l","sty":"s","id":"rl","o":45,"m":14.5,"M":9.524},
{"set":"r","kind":"l","sty":"s","id":"rl","o":46,"m":14.75,"M":9.641},{"set":"r","kind":"l","sty":"s","id":"rl","o":47,"m":14.75,"M":10.15},
{"set":"r","kind":"l","sty":"s","id":"rl","o":48,"m":15,"M":10.262},{"set":"r","kind":"l","sty":"s","id":"rl","o":49,"m":15,"M":11.019},
{"set":"r","kind":"l","sty":"s","id":"rl","o":50,"m":15.25,"M":11.131},{"set":"r","kind":"l","sty":"s","id":"rl","o":51,"m":15.25,"M":11.645},
{"set":"r","kind":"l","sty":"s","id":"rl","o":52,"m":15.5,"M":11.769},{"set":"r","kind":"l","sty":"s","id":"rl","o":53,"m":15.5,"M":12.408},
{"set":"r","kind":"l","sty":"s","id":"rl","o":54,"m":15.75,"M":12.51},{"set":"r","kind":"l","sty":"s","id":"rl","o":55,"m":15.75,"M":13.2}
],
"labels":[
{"set":"k","t":"10","m":9.48,"M":9.48},{"set":"k","t":"20","m":9.566,"M":8.061},
{"set":"k","t":"40","m":9.698,"M":6.688},{"set":"k","t":"40","m":14.593,"M":11.583},
{"set":"k","t":"80","m":9.574,"M":5.059},{"set":"k","t":"80","m":14.943,"M":10.428},
{"set":"k","t":"160","m":9.628,"M":3.607},{"set":"k","t":"160","m":15.417,"M":9.396},
{"set":"k","t":"320","m":9.908,"M":2.382},{"set":"k","t":"320","m":15.005,"M":7.479},
{"set":"k","t":"640","m":9.76,"M":0.729},{"set":"k","t":"640","m":15.433,"M":6.402},
{"set":"k","t":"1280","m":9.791,"M":-0.745},{"set":"k","t":"1280","m":15.992,"M":5.456},
{"set":"k","t":"2560","m":10.125,"M":-1.916},{"set":"k","t":"2560","m":15.401,"M":3.36},
{"set":"k","t":"5000","m":10.001,"M":-3.494},{"set":"k","t":"5000","m":15.991,"M":2.496},
{"set":"k","t":"10000","m":10.895,"M":-4.105},{"set":"k","t":"20000","m":12.619,"M":-3.886},
{"set":"k","t":"40000","m":14.375,"M":-3.635},{"set":"k","t":"80000","m":15.479,"M":-4.036},
{"set":"r","t":"20","m":10.592,"M":10.34},{"set":"r","t":"40","m":10.809,"M":8.991},
{"set":"r","t":"80","m":11.119,"M":7.423},{"set":"r","t":"160","m":10.592,"M":4.851},
{"set":"r","t":"320","m":10.855,"M":3.551},{"set":"r","t":"640","m":11.182,"M":2.19},
{"set":"r","t":"1280","m":10.592,"M":-0.027},{"set":"r","t":"2560","m":10.84,"M":-1.386},
{"set":"r","t":"5000","m":11.151,"M":-2.539},{"set":"r","t":"10000","m":11.679,"M":-3.545},
{"set":"r","t":"20000","m":13.482,"M":-3.249},{"set":"r","t":"40000","m":15.315,"M":-2.894}
]
},
"layer":[
{"data":{"name":"lines"},"transform":[{"filter":"datum.set==='k' && datum.kind==='c'"}],
 "mark":{"type":"line","color":"black","strokeWidth":1,"clip":true},
 "encoding":{
  "x":{"field":"m","type":"quantitative","scale":{"domain":[9,17],"nice":false,"zero":false},"axis":{"orient":"bottom","values":[10,12,14,16],"tickSize":-20,"labelPadding":52,"labelFontSize":38,"title":"mᵥ","titleFontSize":38,"titlePadding":7}},
  "y":{"field":"M","type":"quantitative","scale":{"domain":[-5,12.9],"reverse":true,"nice":false,"zero":false},"axis":{"orient":"left","values":[-5,0,5,10],"tickSize":-17,"labelPadding":50,"labelFontSize":38,"labelOffset":{"condition":{"test":"datum.value === -5","value":17},"value":4},"title":"Mᵥ","titleFontSize":38,"titlePadding":13}},
  "detail":{"field":"id"},"order":{"field":"o","type":"quantitative"},
  "strokeDash":{"field":"sty","type":"nominal","scale":{"domain":["s","d"],"range":[[1,0],[15,15]]},"legend":null}}},
{"data":{"name":"lines"},"transform":[{"filter":"datum.set==='k' && datum.kind==='l'"}],
 "mark":{"type":"line","color":"black","strokeWidth":2.7,"clip":true},
 "encoding":{
  "x":{"field":"m","type":"quantitative","scale":{"domain":[9,17],"nice":false,"zero":false},"axis":{"orient":"bottom","values":[9,9.5,10,10.5,11,11.5,12,12.5,13,13.5,14,14.5,15,15.5,16,16.5,17],"tickSize":-10,"labels":false,"domain":false,"title":null}},
  "y":{"field":"M","type":"quantitative","scale":{"domain":[-5,12.9],"reverse":true,"nice":false,"zero":false},"axis":{"orient":"left","values":[-5,-4,-3,-2,-1,0,1,2,3,4,5,6,7,8,9,10,11,12],"tickSize":-8.5,"labels":false,"domain":false,"title":null}},
  "order":{"field":"o","type":"quantitative"}}},
{"data":{"name":"lines"},"transform":[{"filter":"datum.set==='r' && datum.kind==='c'"}],
 "mark":{"type":"line","color":"#ff0000","strokeWidth":1,"clip":true},
 "encoding":{
  "x":{"field":"m","type":"quantitative","scale":{"domain":[9,17],"nice":false,"zero":false},"axis":{"orient":"top","values":[10,12,14,16],"tickSize":-20,"labels":false,"title":null,"minExtent":0,"maxExtent":0}},
  "y":{"field":"M","type":"quantitative","scale":{"domain":[-5,12.9],"reverse":true,"nice":false,"zero":false},"axis":{"orient":"right","values":[-5,0,5,10],"tickSize":-17,"labels":false,"title":null,"minExtent":0,"maxExtent":0}},
  "detail":{"field":"id"},"order":{"field":"o","type":"quantitative"},
  "strokeDash":{"field":"sty","type":"nominal","scale":{"domain":["s","d"],"range":[[1,0],[15,15]]},"legend":null}}},
{"data":{"name":"lines"},"transform":[{"filter":"datum.set==='r' && datum.kind==='l'"}],
 "mark":{"type":"line","color":"#ff0000","strokeWidth":2.7,"clip":true},
 "encoding":{
  "x":{"field":"m","type":"quantitative","scale":{"domain":[9,17],"nice":false,"zero":false},"axis":{"orient":"top","values":[9,9.5,10,10.5,11,11.5,12,12.5,13,13.5,14,14.5,15,15.5,16,16.5,17],"tickSize":-10,"labels":false,"domain":false,"title":null,"minExtent":0,"maxExtent":0}},
  "y":{"field":"M","type":"quantitative","scale":{"domain":[-5,12.9],"reverse":true,"nice":false,"zero":false},"axis":{"orient":"right","values":[-5,-4,-3,-2,-1,0,1,2,3,4,5,6,7,8,9,10,11,12],"tickSize":-8.5,"labels":false,"domain":false,"title":null,"minExtent":0,"maxExtent":0}},
  "order":{"field":"o","type":"quantitative"}}},
{"data":{"name":"labels"},"transform":[{"filter":"datum.set==='k'"}],
 "mark":{"type":"text","color":"black","font":"Roboto","fontSize":34,"fontWeight":300,"angle":27.7,"align":"center","baseline":"middle"},
 "encoding":{"x":{"field":"m","type":"quantitative","axis":null},"y":{"field":"M","type":"quantitative","axis":null},"text":{"field":"t"}}},
{"data":{"name":"labels"},"transform":[{"filter":"datum.set==='r' && indexof(['20','40','80'], datum.t) < 0"}],
 "mark":{"type":"text","color":"#ff0000","font":"Roboto","fontSize":34,"fontWeight":300,"angle":30,"align":"center","baseline":"middle"},
 "encoding":{"x":{"field":"m","type":"quantitative","axis":null},"y":{"field":"M","type":"quantitative","axis":null},"text":{"field":"t"}}},
{"data":{"name":"labels"},"transform":[{"filter":"datum.set==='r' && indexof(['20','40','80'], datum.t) >= 0"}],
 "mark":{"type":"text","color":"#ff0000","font":"Roboto","fontSize":34,"fontWeight":300,"angle":35,"align":"center","baseline":"middle"},
 "encoding":{"x":{"field":"m","type":"quantitative","axis":null},"y":{"field":"M","type":"quantitative","axis":null},"text":{"field":"t"}}}
],
"resolve":{"axis":{"x":"independent","y":"independent"}}
}
